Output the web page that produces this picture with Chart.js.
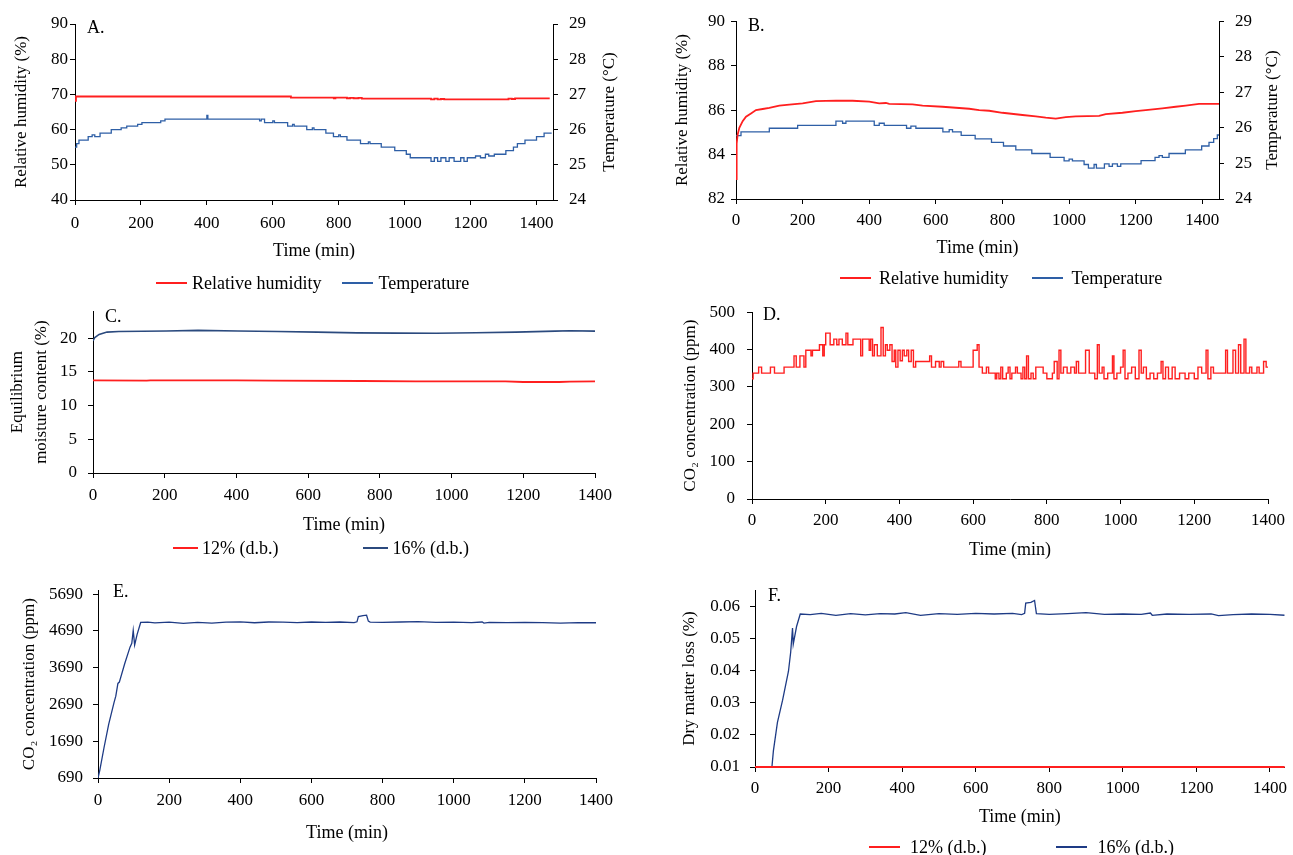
<!DOCTYPE html>
<html>
<head>
<meta charset="utf-8">
<title>Store climate, moisture, CO2 and dry matter loss</title>
<script src="https://cdn.jsdelivr.net/npm/chart.js@4.4.1/dist/chart.umd.min.js"></script>
<style>
  body { margin: 0; background: #fff; }
  #page { position: relative; width: 1293px; height: 855px; overflow: hidden; font-family: 'Liberation Serif', 'Times New Roman', serif; }
  #page canvas { position: absolute; }
  .legend { position: absolute; display: flex; align-items: center; height: 22px; font-size: 18px; color: #000; white-space: nowrap; }
  .legend .item { display: flex; align-items: center; }
  .legend .swatch { display: inline-block; height: 0; border-top: 2px solid; }
</style>
</head>
<body>
<div id="page">
  <canvas id="chartA" width="620" height="300" style="left:0;top:0"></canvas>
  <canvas id="chartB" width="633" height="300" style="left:660px;top:0"></canvas>
  <canvas id="chartC" width="620" height="270" style="left:0;top:290px"></canvas>
  <canvas id="chartD" width="613" height="280" style="left:680px;top:290px"></canvas>
  <canvas id="chartE" width="620" height="285" style="left:0;top:570px"></canvas>
  <canvas id="chartF" width="623" height="285" style="left:670px;top:570px"></canvas>
</div>
<script>
// series names
const climateSeries = ['Relative humidity', 'Temperature'];
const moistureSeries = ['12% (d.b.)', '16% (d.b.)'];

// tick values
const timeTicks = [0, 200, 400, 600, 800, 1000, 1200, 1400];
const aRhTicks = [40, 50, 60, 70, 80, 90];
const bRhTicks = [82, 84, 86, 88, 90];
const tempTicks = [24, 25, 26, 27, 28, 29];
const emcTicks = [0, 5, 10, 15, 20];
const dCo2Ticks = [0, 100, 200, 300, 400, 500];
const eCo2Ticks = [690, 1690, 2690, 3690, 4690, 5690];
const dmlTicks = [0.01, 0.02, 0.03, 0.04, 0.05, 0.06];

// A. relative humidity (%) and temperature (°C)
const aRhTime = [0, 3, 650, 655, 780, 785, 790, 820, 825, 835, 845, 860, 870, 1075, 1080, 1090, 1100, 1110, 1120, 1310, 1315, 1325, 1335, 1440];
const aRh = [68.2, 69.4, 69.4, 69.1, 69.1, 68.9, 69.1, 69.1, 68.9, 69.0, 68.9, 69.0, 68.8, 68.8, 68.6, 68.8, 68.6, 68.7, 68.6, 68.6, 68.8, 68.7, 68.85, 68.85];
const aTempTime = [0, 5, 12, 30, 40, 52, 60, 76, 110, 140,
  157, 190, 203, 260, 273, 400, 403, 560, 565, 575,
  600, 605, 645, 660, 665, 703, 720, 725, 761, 784,
  800, 805, 825, 866, 890, 895, 929, 970, 1005, 1017,
  1080, 1090, 1100, 1110, 1125, 1135, 1150, 1170, 1180, 1190,
  1215, 1230, 1245, 1255, 1272, 1307, 1330, 1342, 1365, 1400,
  1423, 1446];
const aTemp = [25.5, 25.6, 25.7, 25.7, 25.8, 25.85, 25.8, 25.9, 26.0, 26.05,
  26.1, 26.15, 26.2, 26.25, 26.3, 26.4, 26.3, 26.25, 26.3, 26.2,
  26.25, 26.2, 26.1, 26.15, 26.1, 26.0, 26.05, 26.0, 25.9, 25.8,
  25.85, 25.8, 25.7, 25.6, 25.65, 25.6, 25.5, 25.4, 25.3, 25.2,
  25.1, 25.2, 25.1, 25.2, 25.1, 25.2, 25.1, 25.2, 25.1, 25.2,
  25.25, 25.2, 25.3, 25.25, 25.3, 25.4, 25.5, 25.6, 25.7, 25.8,
  25.9, 25.9];

// B. relative humidity (%) and temperature (°C)
const bRhTime = [0, 2, 5, 10, 20, 30, 45, 60, 80, 100,
  130, 160, 200, 240, 300, 350, 400, 430, 450, 460,
  530, 560, 620, 700, 730, 760, 800, 860, 900, 930,
  960, 990, 1020, 1090, 1110, 1160, 1200, 1230, 1280, 1320,
  1350, 1390, 1450];
const bRh = [82.9, 84.5, 84.9, 85.2, 85.5, 85.7, 85.85, 86.0, 86.05, 86.1,
  86.2, 86.25, 86.3, 86.4, 86.43, 86.42, 86.38, 86.3, 86.32, 86.28,
  86.26, 86.2, 86.15, 86.06, 86.0, 85.97, 85.88, 85.78, 85.72, 85.66,
  85.62, 85.68, 85.72, 85.74, 85.82, 85.88, 85.95, 86.0, 86.08, 86.15,
  86.2, 86.28, 86.28];
const bTempTime = [0, 15, 100, 185, 300, 320, 330, 415, 430, 445,
  512, 525, 540, 621, 640, 650, 676, 718, 767, 803,
  840, 888, 943, 985, 1000, 1010, 1045, 1058, 1075, 1082,
  1106, 1120, 1130, 1145, 1155, 1216, 1258, 1270, 1280, 1300,
  1349, 1398, 1420, 1434, 1445, 1450];
const bTemp = [25.78, 25.89, 25.99, 26.07, 26.19, 26.13, 26.19, 26.07, 26.13, 26.07,
  25.99, 26.05, 25.99, 25.89, 25.95, 25.89, 25.79, 25.69, 25.59, 25.49,
  25.38, 25.28, 25.17, 25.07, 25.12, 25.07, 24.97, 24.87, 24.97, 24.87,
  24.99, 24.92, 24.99, 24.92, 24.99, 25.08, 25.17, 25.22, 25.17, 25.28,
  25.38, 25.49, 25.59, 25.7, 25.8, 25.8];

// C. equilibrium moisture content (%)
const c12Time = [0, 150, 160, 400, 500, 750, 900, 1150, 1200, 1300, 1330, 1400];
const c12 = [13.75, 13.7, 13.75, 13.75, 13.7, 13.65, 13.6, 13.6, 13.5, 13.5, 13.55, 13.6];
const c16Time = [0, 5, 17, 39, 72, 205, 293, 404, 515, 625, 736, 847, 957, 1068, 1179, 1289, 1330, 1400];
const c16 = [19.6, 20.1, 20.55, 20.9, 21.0, 21.07, 21.15, 21.07, 20.98, 20.9, 20.78, 20.75, 20.72, 20.8, 20.9, 21.05, 21.1, 21.05];

// D. CO2 concentration (ppm), 12% grain
const dTime = [0, 3, 18, 26, 50, 61, 87, 114, 120, 130,
  141, 146, 160, 164, 183, 192, 196, 200, 212, 222,
  230, 236, 245, 255, 260, 274, 295, 300, 318, 322,
  327, 332, 340, 350, 356, 362, 367, 374, 380, 386,
  390, 396, 402, 408, 413, 420, 425, 432, 438, 444,
  482, 487, 498, 508, 513, 520, 561, 567, 600, 611,
  616, 625, 636, 642, 660, 664, 670, 675, 680, 690,
  695, 700, 705, 715, 720, 730, 735, 740, 745, 750,
  757, 763, 770, 790, 800, 815, 820, 828, 833, 838,
  845, 855, 865, 875, 880, 886, 905, 915, 930, 937,
  942, 950, 955, 965, 978, 982, 990, 1000, 1007, 1012,
  1020, 1030, 1040, 1050, 1056, 1062, 1070, 1080, 1090, 1100,
  1110, 1115, 1122, 1130, 1140, 1148, 1160, 1175, 1185, 1200,
  1210, 1220, 1232, 1237, 1245, 1252, 1285, 1290, 1305, 1312,
  1320, 1326, 1335, 1340, 1350, 1356, 1370, 1376, 1388, 1395, 1400];
const dCo2 = [322, 337, 353, 337, 353, 337, 353, 383, 353, 383,
  353, 398, 383, 398, 413, 383, 413, 444, 413, 428,
  413, 428, 413, 444, 413, 428, 383, 428, 398, 428,
  383, 413, 383, 459, 383, 413, 398, 413, 368, 398,
  353, 398, 370, 398, 383, 398, 368, 398, 353, 368,
  383, 353, 368, 353, 368, 353, 368, 353, 398, 413,
  353, 337, 353, 337, 322, 337, 322, 353, 322, 337,
  353, 322, 337, 353, 337, 322, 353, 322, 383, 322,
  337, 322, 353, 337, 322, 337, 368, 322, 398, 337,
  353, 337, 353, 337, 368, 337, 398, 337, 322, 413,
  337, 353, 322, 337, 383, 322, 337, 353, 398, 322,
  337, 353, 322, 398, 337, 353, 322, 337, 322, 337,
  368, 322, 353, 322, 353, 322, 337, 322, 337, 322,
  353, 337, 398, 322, 353, 337, 398, 337, 398, 337,
  413, 337, 428, 337, 353, 337, 353, 337, 368, 353, 353];

// E. CO2 concentration (ppm), 16% grain
const eTime = [0, 5, 17, 30, 45, 50, 56, 60, 75, 90,
  95, 99, 103, 110, 120, 140, 160, 200, 240, 280,
  320, 360, 400, 440, 480, 520, 560, 600, 640, 680,
  720, 728, 732, 745, 755, 760, 765, 800, 850, 900,
  950, 1000, 1050, 1080, 1085, 1100, 1150, 1200, 1250, 1300,
  1350, 1400];
const eCo2 = [690, 900, 1520, 2150, 2740, 2915, 3264, 3300, 3800, 4250,
  4355, 4704, 4311, 4600, 4922, 4930, 4910, 4930, 4900, 4925,
  4905, 4930, 4940, 4915, 4935, 4930, 4920, 4935, 4925, 4935,
  4920, 4940, 5080, 5110, 5120, 4960, 4930, 4925, 4935, 4945,
  4925, 4930, 4920, 4935, 4905, 4925, 4920, 4925, 4915, 4905,
  4920, 4915];

// F. dry matter loss (%)
const f12Time = [0, 1440];
const f12 = [0.01, 0.01];
const f16Time = [0, 46, 50, 61, 75, 91, 97, 102, 104, 113,
  123, 150, 180, 220, 260, 300, 340, 380, 410, 450,
  500, 550, 600, 650, 700, 725, 733, 736, 750, 760,
  765, 800, 850, 900, 950, 1000, 1050, 1075, 1080, 1120,
  1180, 1240, 1260, 1300, 1350, 1400, 1440];
const f16 = [0.01, 0.01, 0.015, 0.0239, 0.0308, 0.0398, 0.0457, 0.0532, 0.0482, 0.0537,
  0.0576, 0.0574, 0.0578, 0.0572, 0.0577, 0.0573, 0.0577, 0.0576, 0.058, 0.0572,
  0.0577, 0.0575, 0.0578, 0.0576, 0.0578, 0.0574, 0.0578, 0.061, 0.0612, 0.0618,
  0.0577, 0.0575, 0.0577, 0.058, 0.0575, 0.0576, 0.0575, 0.0579, 0.0572, 0.0576,
  0.0575, 0.0576, 0.0571, 0.0574, 0.0576, 0.0575, 0.0572];

const RED = '#ff1f1f';
const BLUE_CLIMATE = '#2e5fa6';
const BLUE_EMC = '#2b4a7e';
const NAVY = '#1e3b85';
const FONT = "'Liberation Serif', 'Times New Roman', serif";

Chart.defaults.font.family = FONT;
Chart.defaults.color = '#000';

// the "A." .. "F." tag in each plot, plus the right-hand axis title,
// which Excel writes bottom-to-top (Chart.js would turn it the other way)
const panelText = {
  id: 'panelText',
  afterDraw(chart, args, opts) {
    if (!opts || !opts.text) return;
    const { ctx, chartArea } = chart;
    ctx.save();
    ctx.fillStyle = '#000';
    ctx.textBaseline = 'middle';
    ctx.font = '18px ' + FONT;
    ctx.fillText(opts.text, chartArea.left + opts.dx, chartArea.top + opts.dy);
    if (opts.rightTitle) {
      ctx.font = '17px ' + FONT;
      ctx.textAlign = 'center';
      ctx.translate(chart.width - opts.rightX, (chartArea.top + chartArea.bottom) / 2);
      ctx.rotate(-Math.PI / 2);
      ctx.fillText(opts.rightTitle, 0, 0);
    }
    ctx.restore();
  }
};
Chart.register(panelText);

function pairs(xs, ys) {
  return xs.map((x, i) => ({ x: x, y: ys[i] }));
}

// one axis, Excel look: black spine, outside tick marks, no grid
function axis(o) {
  return {
    type: 'linear',
    position: o.position,
    min: o.min,
    max: o.max,
    afterBuildTicks: (scale) => { scale.ticks = o.ticks.map(v => ({ value: v })); },
    afterFit: (scale) => {
      if (o.position === 'bottom') scale.height = o.size;
      else scale.width = o.size;
    },
    grid: { drawOnChartArea: false, drawTicks: true, tickLength: 5, color: '#000', lineWidth: 1 },
    border: { display: true, color: '#000', width: 1 },
    ticks: {
      padding: o.tickPad,
      autoSkip: false,
      maxRotation: 0,
      font: { size: 17 },
      color: '#000',
      callback: o.format || (v => String(v))
    },
    title: {
      display: !!o.title,
      text: o.title,
      color: '#000',
      font: { size: o.titleSize || 17, lineHeight: o.titleLh || 1.2 },
      padding: { top: o.titlePad || 0, bottom: 4 }
    }
  };
}

function timeAxis(max, size, tickPad) {
  return axis({ position: 'bottom', min: 0, max: max, ticks: timeTicks, size: size, tickPad: tickPad, title: 'Time (min)', titleSize: 18 });
}

function line(label, data, color, width, yAxisID, stepped) {
  return {
    label: label,
    data: data,
    borderColor: color,
    backgroundColor: color,
    borderWidth: width,
    pointRadius: 0,
    tension: 0,
    stepped: stepped || false,
    yAxisID: yAxisID || 'y'
  };
}

function options(padding, tag, scales) {
  return {
    responsive: false,
    animation: false,
    events: [],
    layout: { padding: padding },
    plugins: {
      legend: { display: false },
      tooltip: { enabled: false },
      panelText: tag
    },
    scales: scales
  };
}

// A
new Chart(document.getElementById('chartA'), {
  type: 'line',
  data: {
    datasets: [
      line(climateSeries[0], pairs(aRhTime, aRh), RED, 1.8, 'y', true),
      line(climateSeries[1], pairs(aTempTime, aTemp), BLUE_CLIMATE, 1.3, 'y1', true)
    ]
  },
  options: options({ top: 24, left: 0, right: 0, bottom: 34 },
    { text: 'A.', dx: 12, dy: 4, rightTitle: 'Temperature (°C)', rightX: 10 }, {
    x: timeAxis(1450, 66, 8),
    y: axis({ position: 'left', min: 40, max: 90, ticks: aRhTicks, size: 75, tickPad: 2, title: 'Relative humidity (%)', titlePad: 11 }),
    y1: axis({ position: 'right', min: 24, max: 29, ticks: tempTicks, size: 67, tickPad: 11 })
  })
});

// B
new Chart(document.getElementById('chartB'), {
  type: 'line',
  data: {
    datasets: [
      line(climateSeries[0], pairs(bRhTime, bRh), RED, 1.8, 'y'),
      line(climateSeries[1], pairs(bTempTime, bTemp), BLUE_CLIMATE, 1.3, 'y1', true)
    ]
  },
  options: options({ top: 18, left: 0, right: 0, bottom: 37 },
    { text: 'B.', dx: 12, dy: 5, rightTitle: 'Temperature (°C)', rightX: 20 }, {
    x: timeAxis(1450, 64, 6),
    y: axis({ position: 'left', min: 82, max: 90, ticks: bRhTicks, size: 76, tickPad: 6, title: 'Relative humidity (%)', titlePad: 12 }),
    y1: axis({ position: 'right', min: 24, max: 29, ticks: tempTicks, size: 74, tickPad: 11 })
  })
});

// C
new Chart(document.getElementById('chartC'), {
  type: 'line',
  data: {
    datasets: [
      line(moistureSeries[0], pairs(c12Time, c12), RED, 1.8),
      line(moistureSeries[1], pairs(c16Time, c16), BLUE_EMC, 1.6)
    ]
  },
  options: options({ top: 11, left: 0, right: 25, bottom: 20 }, { text: 'C.', dx: 12, dy: 6 }, {
    x: timeAxis(1400, 67, 7),
    y: axis({ position: 'left', min: 0, max: 24, ticks: emcTicks, size: 93, tickPad: 11, title: ['Equilibrium', 'moisture content (%)'], titlePad: 6, titleLh: 1.41 })
  })
});

// D
new Chart(document.getElementById('chartD'), {
  type: 'line',
  data: {
    datasets: [
      line('CO₂ concentration', pairs(dTime, dCo2), RED, 1.4, 'y', true)
    ]
  },
  options: options({ top: 17, left: 0, right: 25, bottom: 5 }, { text: 'D.', dx: 11, dy: 3 }, {
    x: timeAxis(1400, 66, 6),
    y: axis({ position: 'left', min: 0, max: 500, ticks: dCo2Ticks, size: 72, tickPad: 12, title: 'CO₂ concentration (ppm)', titlePad: 0 })
  })
});

// E
new Chart(document.getElementById('chartE'), {
  type: 'line',
  data: {
    datasets: [
      line('CO₂ concentration', pairs(eTime, eCo2), NAVY, 1.3)
    ]
  },
  options: options({ top: 13, left: 0, right: 23, bottom: 7 }, { text: 'E.', dx: 15, dy: 2 }, {
    x: timeAxis(1400, 70, 7),
    y: axis({ position: 'left', min: 690, max: 5800, ticks: eCo2Ticks, size: 98, tickPad: 10, title: 'CO₂ concentration (ppm)', titlePad: 19 })
  })
});

// F
const f12Line = line(moistureSeries[0], pairs(f12Time, f12), RED, 2.2);
f12Line.clip = false;
new Chart(document.getElementById('chartF'), {
  type: 'line',
  data: {
    datasets: [
      f12Line,
      line(moistureSeries[1], pairs(f16Time, f16), NAVY, 1.3)
    ]
  },
  options: options({ top: 13, left: 0, right: 1, bottom: 23 }, { text: 'F.', dx: 13, dy: 6 }, {
    x: timeAxis(1440, 65, 6),
    y: axis({ position: 'left', min: 0.01, max: 0.065, ticks: dmlTicks, size: 85, tickPad: 10, title: 'Dry matter loss (%)', titlePad: 9, format: v => v.toFixed(2) })
  })
});

// legends under panels A, B, C and F
function addLegend(left, centerY, names, colors, swatch, textGap, itemGap) {
  const box = document.createElement('div');
  box.className = 'legend';
  box.style.left = left + 'px';
  box.style.top = (centerY - 11) + 'px';
  names.forEach((name, i) => {
    const item = document.createElement('div');
    item.className = 'item';
    if (i > 0) item.style.marginLeft = itemGap + 'px';
    const mark = document.createElement('span');
    mark.className = 'swatch';
    mark.style.width = swatch + 'px';
    mark.style.borderTopColor = colors[i];
    mark.style.marginRight = textGap + 'px';
    const text = document.createElement('span');
    text.textContent = name;
    item.appendChild(mark);
    item.appendChild(text);
    box.appendChild(item);
  });
  document.getElementById('page').appendChild(box);
}

addLegend(156, 283, climateSeries, [RED, BLUE_CLIMATE], 31, 5, 21);
addLegend(840, 278, climateSeries, [RED, BLUE_CLIMATE], 31, 8, 24);
addLegend(173, 548, moistureSeries, [RED, BLUE_EMC], 25, 4, 85);
addLegend(869, 847, moistureSeries, [RED, NAVY], 31, 10, 70);
</script>
</body>
</html>
